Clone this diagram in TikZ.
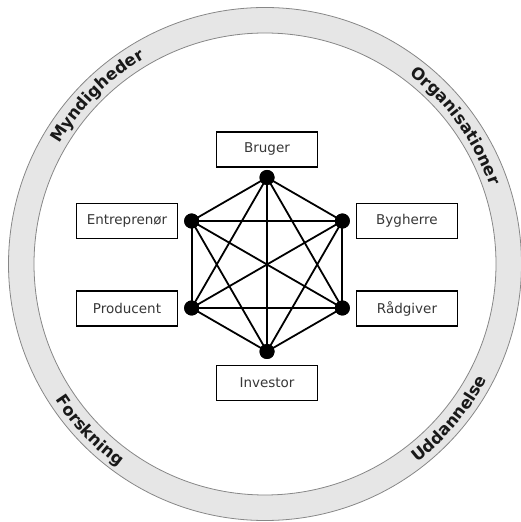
\documentclass[tikz,border=0pt]{standalone}
\usepackage{fontspec}
\setmainfont{DejaVu Sans}
\usetikzlibrary{decorations.text}
\definecolor{ringfill}{RGB}{230,230,230}
\definecolor{ringline}{RGB}{135,135,135}
\definecolor{boxtext}{RGB}{55,55,55}
\definecolor{labeltext}{RGB}{25,25,25}
\newcommand\ringfont{\fontsize{16.5}{16.5}\selectfont\bfseries}
\begin{document}
\begin{tikzpicture}[x=1pt,y=1pt,
  role/.style={draw=black, line width=1.8pt, fill=white, minimum width=101pt,
    minimum height=35pt, inner sep=0pt, font=\fontsize{13.5}{16}\selectfont, text=boxtext},
  hub/.style={circle, fill=black, inner sep=0pt, minimum size=15pt},
  link/.style={line width=1.8pt, black},
  ringlabel/.style={decorate, decoration={text along path, text align=center,
    text color=labeltext, text={|\ringfont|#1}}}
]
\useasboundingbox (0,0) rectangle (520,522);

% outer ring
\coordinate (C) at (265,258);
\fill[ringfill, even odd rule] (C) circle[radius=256.5pt] (C) circle[radius=231pt];
\draw[ringline, line width=0.8pt] (C) circle[radius=256.5pt];
\draw[ringline, line width=0.8pt] (C) circle[radius=231pt];

% ring labels
\begin{scope}[shift={(C)}]
  \path[ringlabel=Myndigheder] (180:238) arc[start angle=180, end angle=90, radius=238pt];
  \path[ringlabel=Organisationer] (81:238) arc[start angle=81, end angle=-9, radius=238pt];
  \path[ringlabel=Forskning] (178.5:250) arc[start angle=178.5, end angle=268.5, radius=250pt];
  \path[ringlabel=Uddannelse] (275:250) arc[start angle=275, end angle=365, radius=250pt];
\end{scope}

% hexagon of connection points
\begin{scope}[shift={(267,257.5)}]
  \node[hub] (v1) at (90:87) {};
  \node[hub] (v2) at (30:87) {};
  \node[hub] (v3) at (-30:87) {};
  \node[hub] (v4) at (-90:87) {};
  \node[hub] (v5) at (-150:87) {};
  \node[hub] (v6) at (150:87) {};
\end{scope}

% every point linked to every other
\foreach \a/\b in {v1/v2,v1/v3,v1/v4,v1/v5,v1/v6,
                   v2/v3,v2/v4,v2/v5,v2/v6,
                   v3/v4,v3/v5,v3/v6,
                   v4/v5,v4/v6,
                   v5/v6}
  \draw[link] (\a.center) -- (\b.center);

% redraw the points above the links
\foreach \v in {v1,v2,v3,v4,v5,v6}
  \fill (\v) circle[radius=7.5pt];

% actors
\node[role] (bruger) at (267,372.7) {Bruger};
\node[role] (bygherre) at (407,301) {Bygherre};
\node[role] (raadgiver) at (407,213.5) {Rådgiver};
\node[role] (investor) at (267,139) {Investor};
\node[role] (producent) at (127,213.5) {Producent};
\node[role] (entreprenor) at (127,301) {Entreprenør};
\end{tikzpicture}
\end{document}
